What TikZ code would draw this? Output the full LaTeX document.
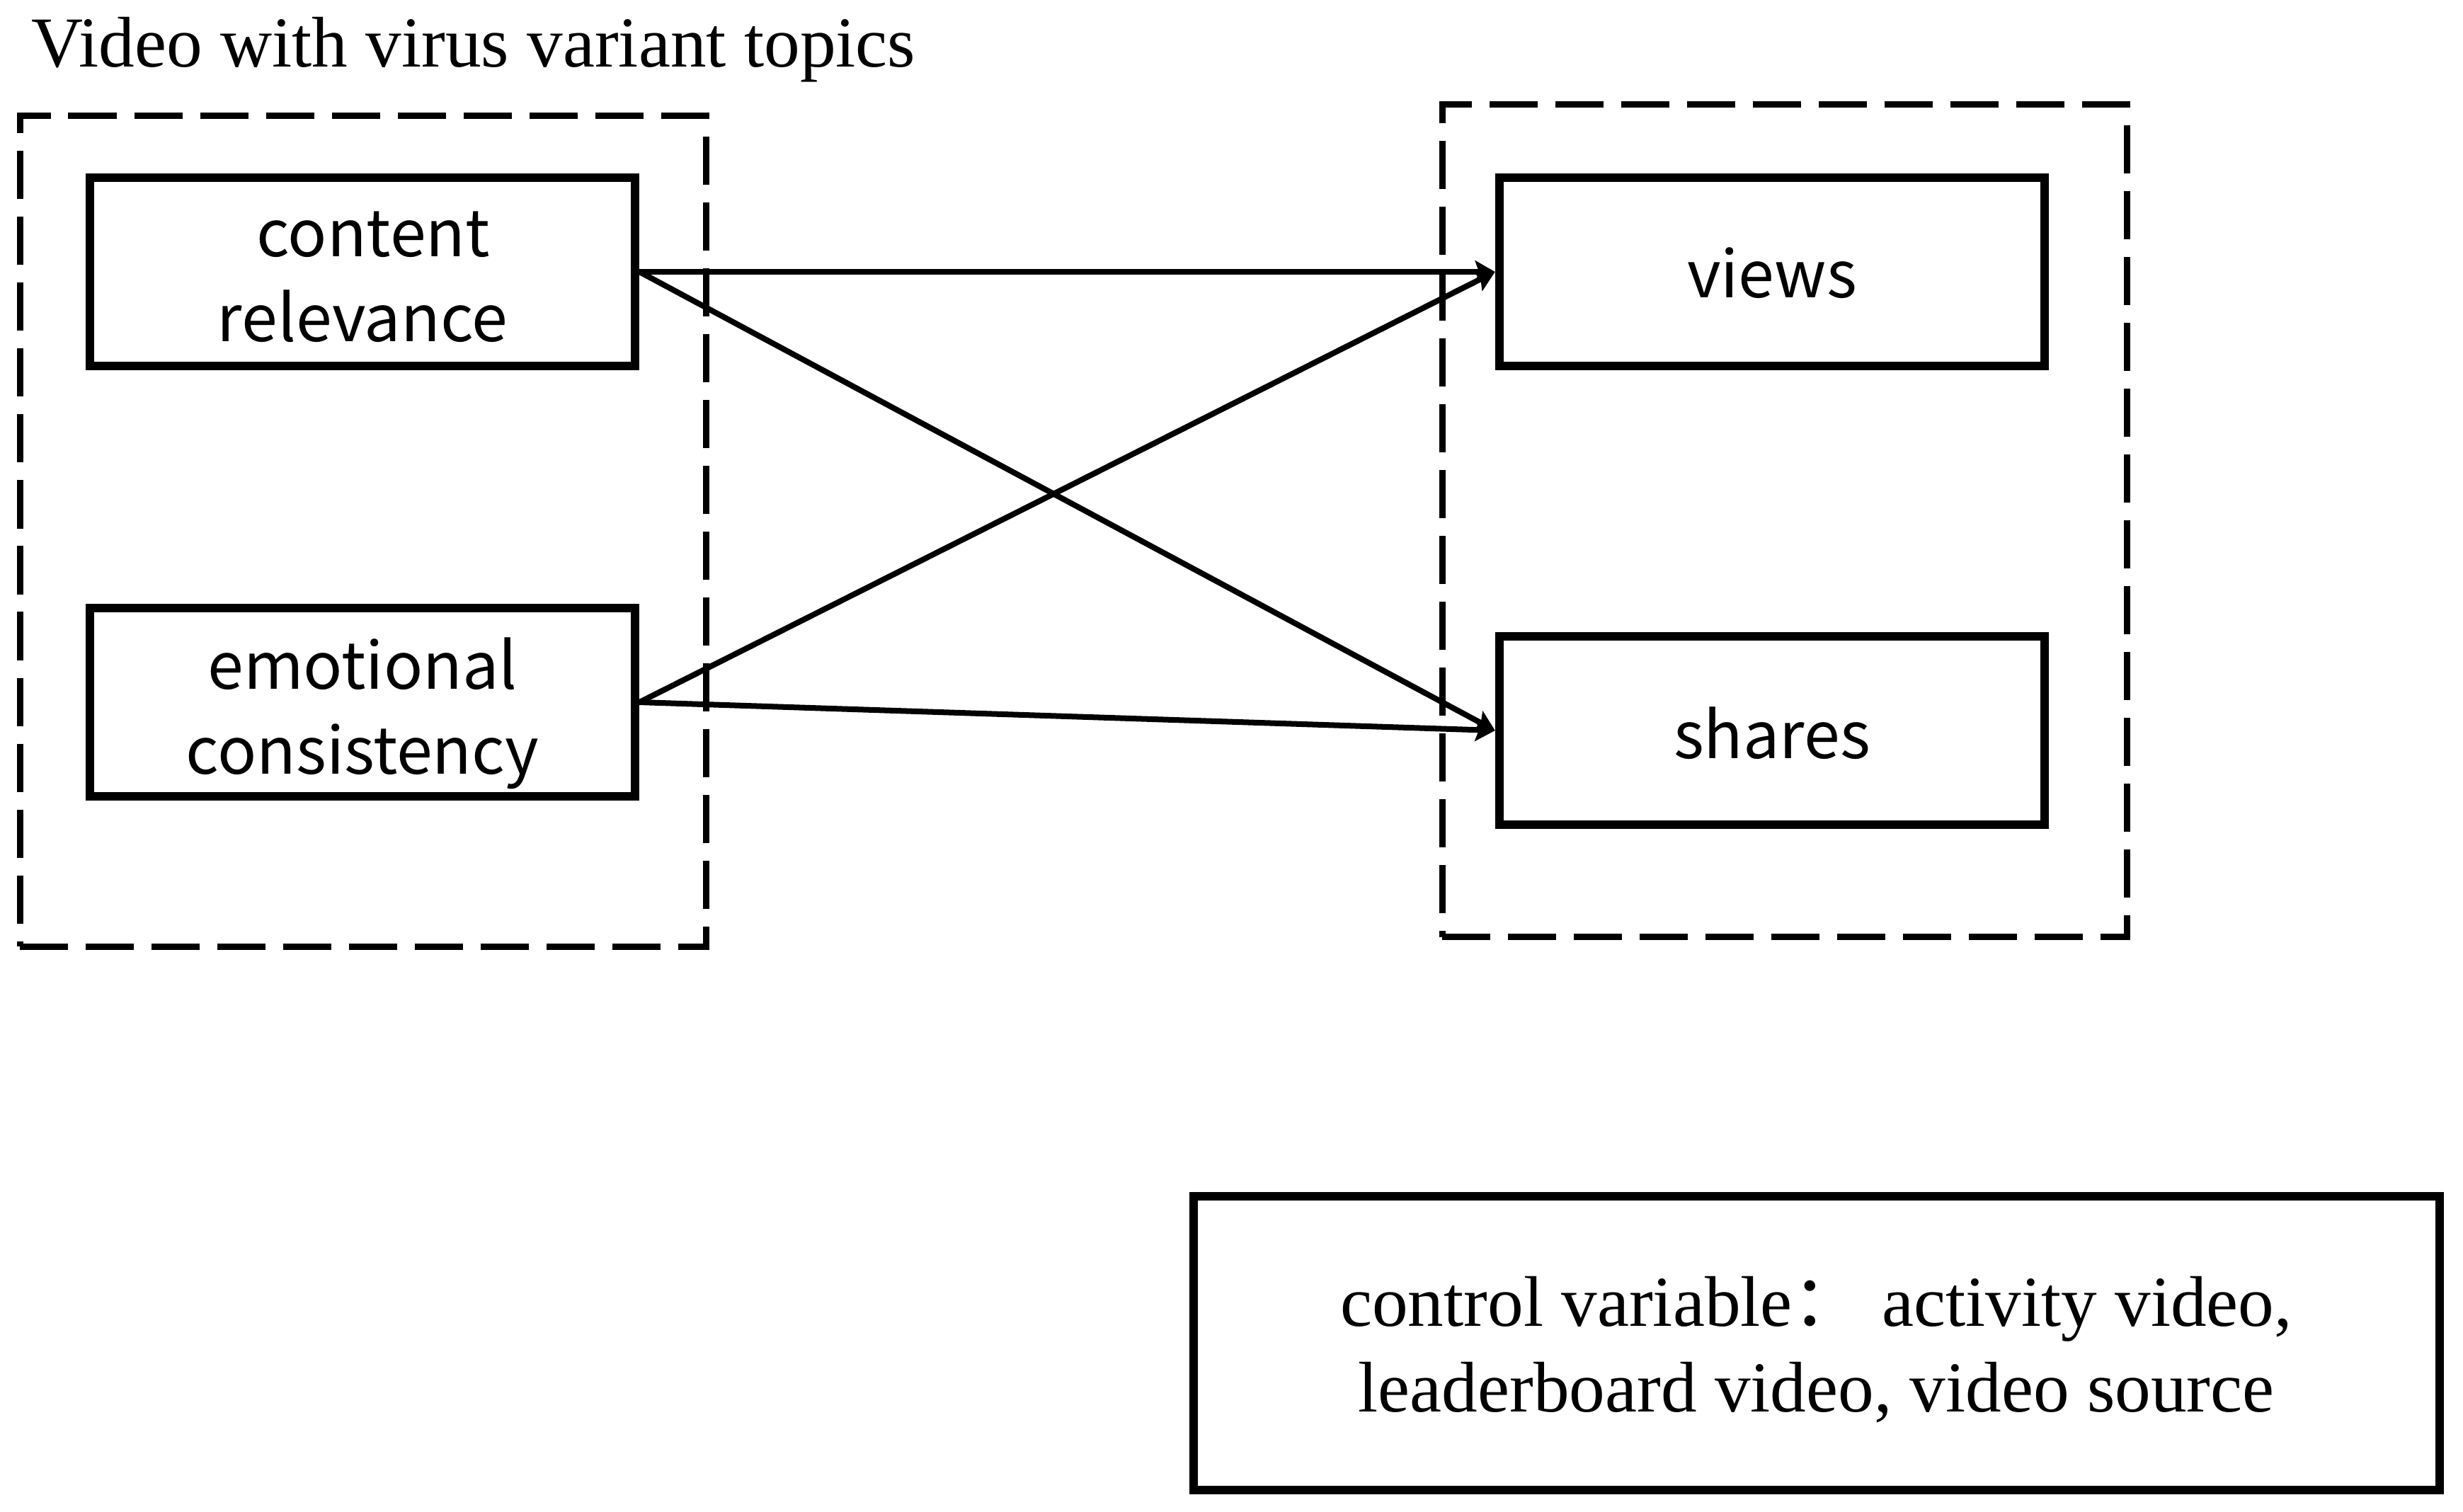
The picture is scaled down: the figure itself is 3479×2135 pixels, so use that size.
\documentclass[tikz,border=0pt]{standalone}
\usepackage{fontspec}
\setmainfont{Liberation Serif}
\newfontfamily\boxfont{Noto Sans CJK SC}
\newfontfamily\cjk{Noto Sans CJK SC}
\usetikzlibrary{arrows.meta}
\tikzset{
  varbox/.style={draw, line width=3.41pt, minimum width=7.7cm, minimum height=2.66cm, inner sep=0pt},
  vartext/.style={font=\boxfont\fontsize{26}{34.1}\selectfont, align=center, inner sep=0pt},
  grpbox/.style={draw, line width=2.56pt, dash pattern=on 19.35pt off 7.1pt, inner sep=0pt},
  ctrlbox/.style={draw, line width=3.41pt, minimum width=17.59cm, minimum height=4.15cm, inner sep=0pt},
  serif/.style={font=\fontsize{28.8}{34.6}\selectfont, inner sep=0pt},
  link/.style={line width=2.28pt, -{Stealth[length=8pt,width=9pt,inset=1.5pt]}},
}
\begin{document}
\begin{tikzpicture}[x=0.01cm,y=-0.01cm]
\useasboundingbox (0,0) rectangle (3479,2135);
% title
\node[serif, anchor=base west] (title) at (44,94) {Video with virus variant topics};
% group boxes
\node[grpbox, minimum width=9.69cm, minimum height=11.73cm] (grpL) at (513,750.5) {};
\node[grpbox, minimum width=9.67cm, minimum height=11.755cm] (grpR) at (2521,735.75) {};
% variable boxes
\node[varbox] (cr) at (512,384) {};
\node[varbox] (ec) at (512,992) {};
\node[varbox] (views) at (2503,384) {};
\node[varbox] (shares) at (2503,1032) {};
\node[vartext] (crtext) at (512,391) {\hspace*{0.3cm}content\\relevance};
\node[vartext] (ectext) at (512,1008) {emotional\\consistency};
\node[vartext] (viewstext) at (2503,386) {views};
\node[vartext] (sharestext) at (2503,1036) {shares};
% control box
\node[ctrlbox] (ctrl) at (2565.5,1897.5) {};
\node[serif, align=center] (ctrltext) at (2565.5,1906.5) {control variable{\cjk ：}\ activity video,\\leaderboard video, video source};
% connectors
\draw[link] (cr.east) -- (views.west);
\draw[link] (cr.east) -- (shares.west);
\draw[link] (ec.east) -- (views.west);
\draw[link] (ec.east) -- (shares.west);
\end{tikzpicture}
\end{document}
